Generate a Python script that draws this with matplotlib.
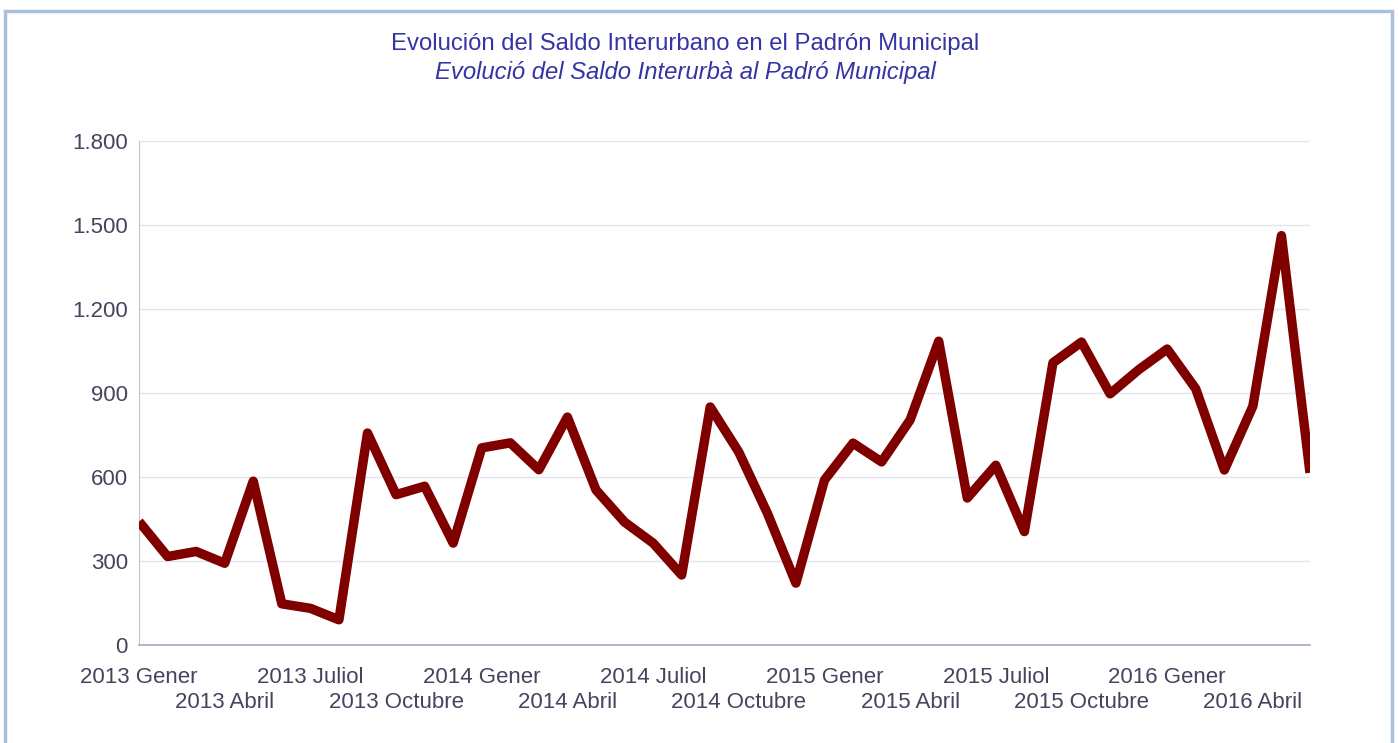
import matplotlib

matplotlib.use("Agg")
import matplotlib.pyplot as plt
from matplotlib.patches import Rectangle
from matplotlib.ticker import FixedLocator, FuncFormatter

# monthly values, 2013 Gener .. 2016 Juny
saldo = [
    441, 316, 334, 292, 585, 147, 131, 90, 757, 537, 567, 364,
    704, 722, 626, 814, 554, 439, 364, 250, 850, 689, 471, 221,
    589, 721, 654, 804, 1085, 525, 642, 405, 1008, 1082, 897, 983,
    1057, 915, 625, 853, 1462, 615,
]
months = list(range(len(saldo)))

row1_pos = [0, 6, 12, 18, 24, 30, 36]
row1_labels = ["2013 Gener", "2013 Juliol", "2014 Gener", "2014 Juliol",
               "2015 Gener", "2015 Juliol", "2016 Gener"]
row2_pos = [3, 9, 15, 21, 27, 33, 39]
row2_labels = ["2013 Abril", "2013 Octubre", "2014 Abril", "2014 Octubre",
               "2015 Abril", "2015 Octubre", "2016 Abril"]
y_ticks = [0, 300, 600, 900, 1200, 1500, 1800]

plt.rcParams["font.family"] = ["Liberation Sans", "DejaVu Sans"]
text_col = "#44445e"
title_col = "#3434a4"

fig = plt.figure(figsize=(13.98, 7.43), dpi=100)
fig.patches.append(Rectangle((5 / 1398, -0.05), 1387 / 1398, 1.05 - 11 / 743,
                             transform=fig.transFigure, fill=False,
                             edgecolor="#a9c1da", linewidth=2.5))

ax = fig.add_axes([139 / 1398, 98 / 743, 1171 / 1398, 504 / 743])
ax.plot(months, saldo, color="#800000", linewidth=6.8, solid_joinstyle="round",
        solid_capstyle="butt", zorder=3)

ax.set_xlim(0, len(saldo) - 1)
ax.set_ylim(0, 1800)
ax.set_yticks(y_ticks)
ax.yaxis.set_major_formatter(FuncFormatter(lambda v, p: f"{int(v):,}".replace(",", ".")))
ax.grid(axis="y", color="#e4e4ee", linewidth=1)
ax.set_axisbelow(True)

ax.xaxis.set_major_locator(FixedLocator(row1_pos))
ax.set_xticklabels(row1_labels)
ax.xaxis.set_minor_locator(FixedLocator(row2_pos))
ax.set_xticklabels(row2_labels, minor=True)
ax.tick_params(axis="x", which="major", length=0, pad=16, labelsize=16, labelcolor=text_col)
ax.tick_params(axis="x", which="minor", length=0, pad=33.5, labelsize=16, labelcolor=text_col)
ax.tick_params(axis="y", length=0, pad=8, labelsize=16, labelcolor=text_col)

for s in ("top", "right"):
    ax.spines[s].set_visible(False)
ax.spines["left"].set_color("#c4c4d8")
ax.spines["bottom"].set_color("#a8a8c4")
ax.spines["bottom"].set_linewidth(1.2)

fig.text(685 / 1398, 1 - 44 / 743, "Evolución del Saldo Interurbano en el Padrón Municipal",
         ha="center", va="center", fontsize=17.2, color=title_col)
fig.text(685 / 1398, 1 - 72 / 743, "Evolució del Saldo Interurbà al Padró Municipal",
         ha="center", va="center", fontsize=17.2, color=title_col, style="italic")

fig.savefig("out.png", dpi=100)
